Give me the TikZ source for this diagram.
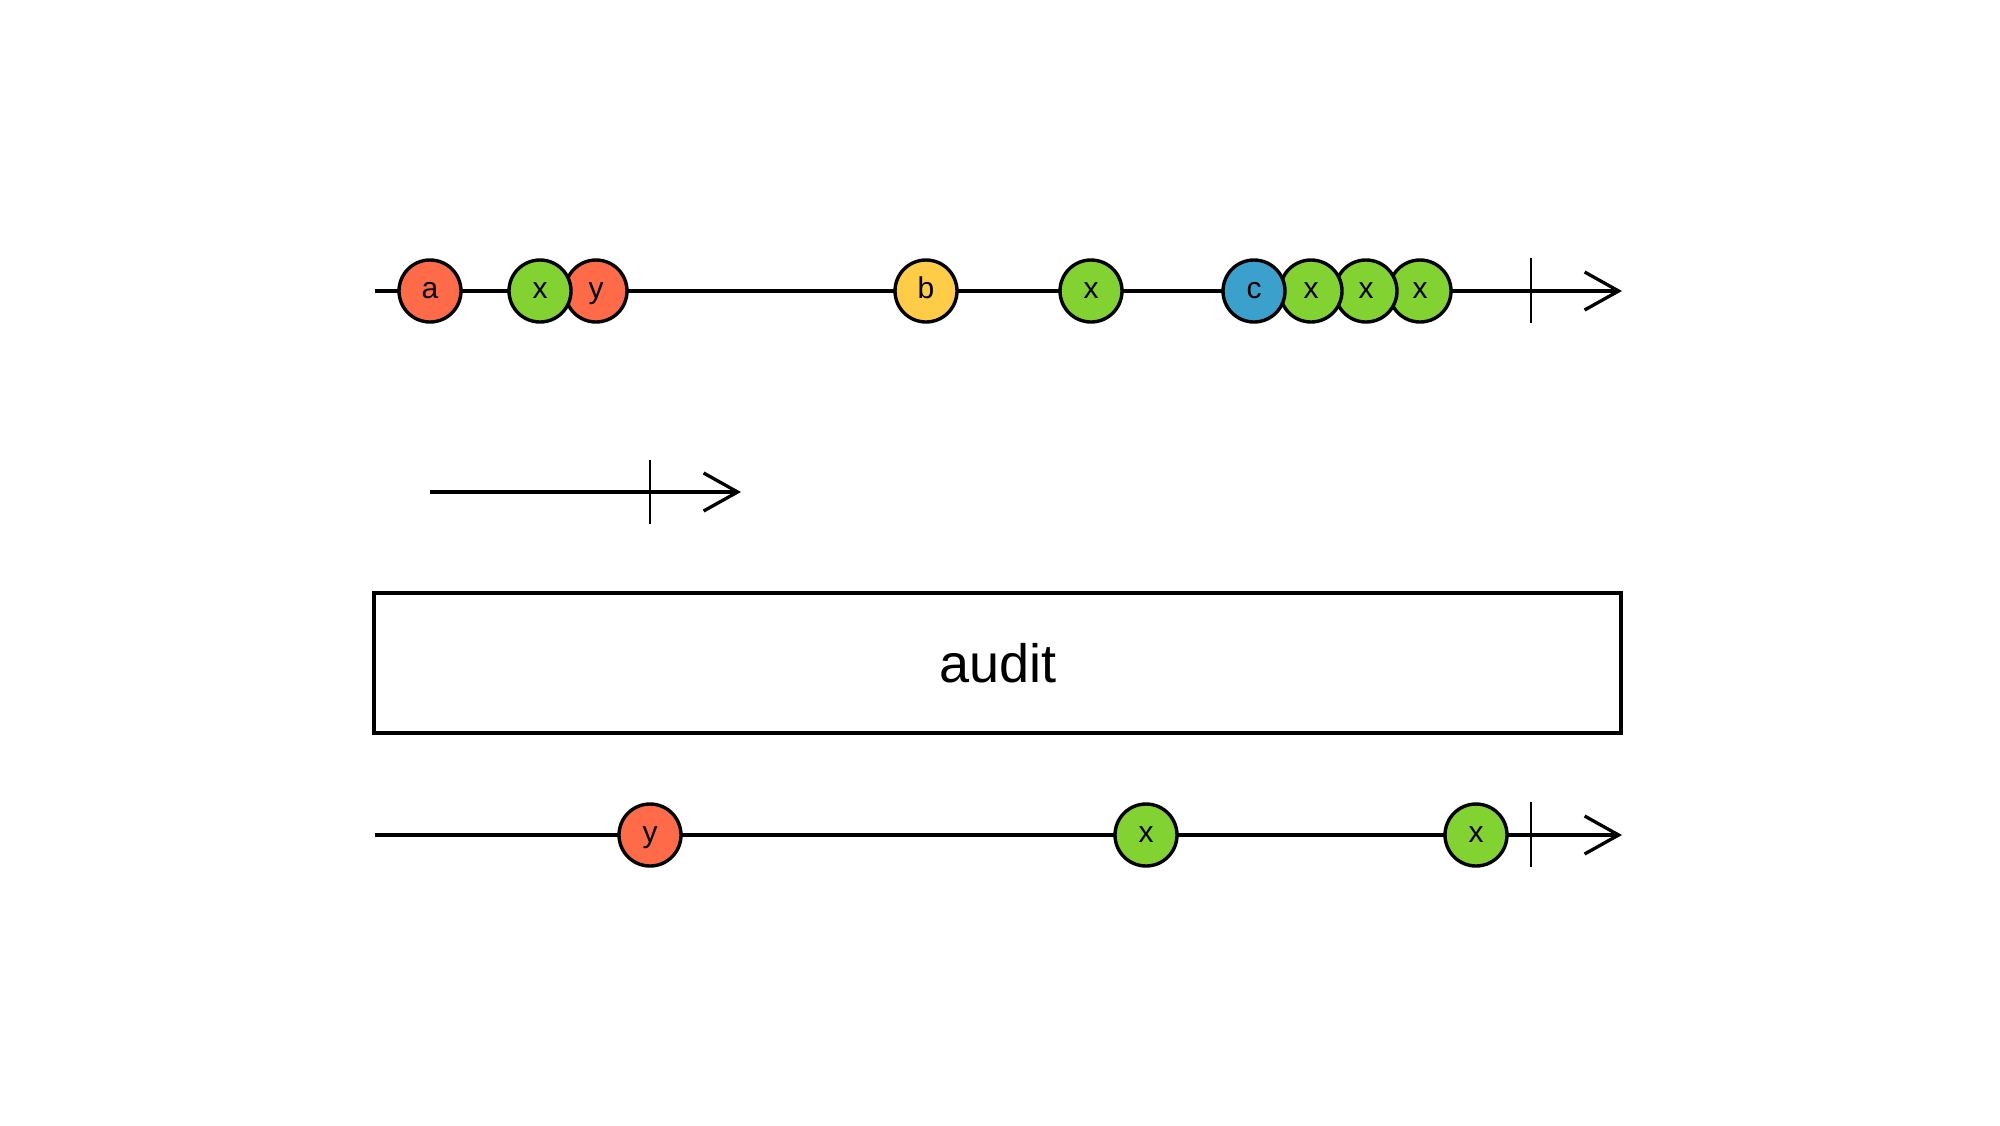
\documentclass[tikz,border=0pt]{standalone}
\usepackage{fontspec}
\setmainfont{Liberation Sans}
\usetikzlibrary{arrows.meta}
\definecolor{mred}{RGB}{255,107,72}
\definecolor{mgreen}{RGB}{130,210,50}
\definecolor{myellow}{RGB}{255,204,72}
\definecolor{mblue}{RGB}{60,160,205}
\begin{document}
\begin{tikzpicture}[x=1pt,y=-1pt,
  timeline/.style={line width=3.3pt,-{Straight Barb[length=34pt,width=38pt,line width=3.3pt]}},
  endtick/.style={line width=2.8pt},
  marble/.style={circle,draw=black,line width=3.4pt,minimum size=62pt,inner sep=0pt,
    font=\fontsize{30pt}{30pt}\selectfont,text height=15pt,text depth=0pt},
  opbox/.style={draw=black,line width=3.4pt,minimum width=1247pt,minimum height=140pt,inner sep=0pt}]
\useasboundingbox (0,0) rectangle (2000,1125);

% top timeline
\coordinate (t0) at (375,291);
\coordinate (t1) at (1622,291);
\coordinate (tk0) at (1531,258);
\coordinate (tk1) at (1531,323);
\draw[timeline] (t0) -- (t1);
\draw[endtick] (tk0) -- (tk1);
\node[marble,fill=mred] (a) at (430,291) {a};
\node[marble,fill=mred] (y1) at (596,291) {y};
\node[marble,fill=mgreen] (x1) at (540,291) {x};
\node[marble,fill=myellow] (b) at (926,291) {b};
\node[marble,fill=mgreen] (x2) at (1091,291) {x};
\node[marble,fill=mgreen] (x5) at (1420,291) {x};
\node[marble,fill=mgreen] (x4) at (1366,291) {x};
\node[marble,fill=mgreen] (x3) at (1311,291) {x};
\node[marble,fill=mblue] (c) at (1254,291) {c};

% duration timeline
\coordinate (m0) at (430,492);
\coordinate (m1) at (741,492);
\coordinate (mk0) at (650,460);
\coordinate (mk1) at (650,524);
\draw[timeline] (m0) -- (m1);
\draw[endtick] (mk0) -- (mk1);

% operator box
\node[opbox] (box) at (997.5,663) {};
\node[anchor=base,font=\fontsize{54pt}{54pt}\selectfont,inner sep=0pt] (lbl) at (998,682) {audit};

% bottom timeline
\coordinate (b0) at (375,835);
\coordinate (b1) at (1622,835);
\coordinate (bk0) at (1531,802);
\coordinate (bk1) at (1531,867);
\draw[timeline] (b0) -- (b1);
\draw[endtick] (bk0) -- (bk1);
\node[marble,fill=mred] (oy) at (650,835) {y};
\node[marble,fill=mgreen] (ox1) at (1146,835) {x};
\node[marble,fill=mgreen] (ox2) at (1476,835) {x};
\end{tikzpicture}
\end{document}
